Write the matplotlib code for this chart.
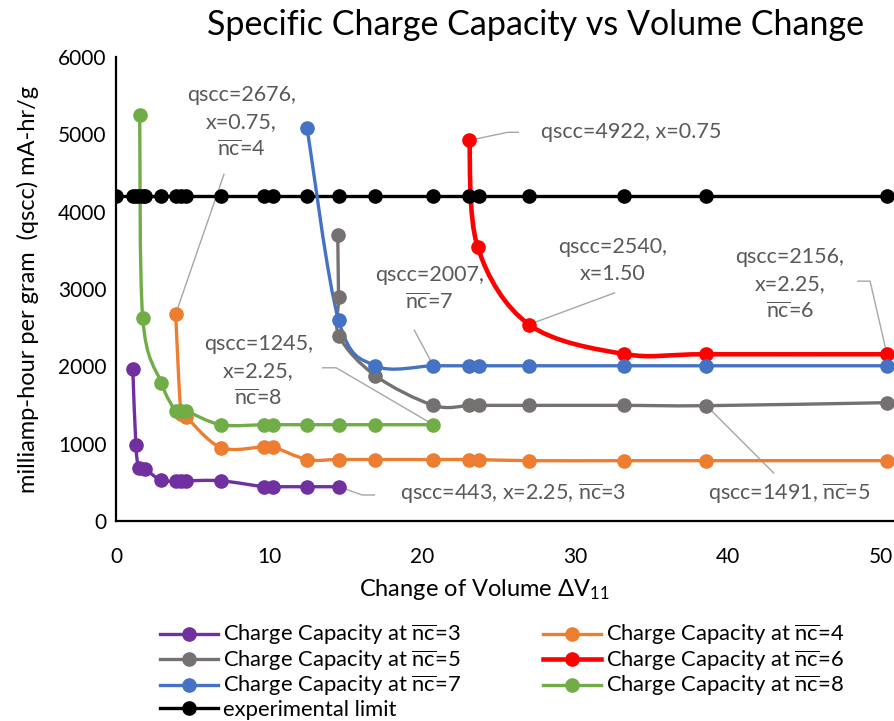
"""Specific charge capacity vs change of volume, one smoothed curve per nc."""
import numpy as np
import matplotlib
matplotlib.use("Agg")
import matplotlib.pyplot as plt
from matplotlib.path import Path
from matplotlib.patches import PathPatch
from matplotlib.lines import Line2D

plt.rcParams["font.family"] = ["Lato", "DejaVu Sans"]
plt.rcParams["mathtext.fontset"] = "custom"
plt.rcParams["mathtext.rm"] = "Lato"
plt.rcParams["mathtext.it"] = "Lato:italic"
plt.rcParams["mathtext.bf"] = "Lato:bold"

# values: x = change of volume dV11, y = qscc (mA-hr/g)
nc3_x = [1.1, 1.3, 1.5, 1.9, 2.95, 3.9, 4.25, 4.6, 6.85, 9.65, 10.25, 12.5, 14.55]
nc3_y = [1960, 985, 680, 670, 525, 520, 520, 520, 520, 443, 443, 443, 443]

nc4_x = [3.9, 4.25, 4.6, 6.85, 9.65, 10.25, 12.5, 14.55, 16.95, 20.75, 23.1, 23.7,
         27.0, 33.2, 38.6, 50.4]
nc4_y = [2676, 1380, 1340, 950, 960, 960, 795, 795, 795, 795, 795, 795,
         780, 780, 780, 780]

nc5_x = [14.5, 14.55, 14.6, 16.95, 20.75, 23.1, 23.7, 27.0, 33.2, 38.6, 50.4]
nc5_y = [3695, 2890, 2390, 1880, 1495, 1495, 1495, 1495, 1495, 1491, 1530]

nc6_x = [23.1, 23.65, 27.0, 33.2, 38.6, 50.4]
nc6_y = [4922, 3540, 2540, 2160, 2156, 2156]

nc7_x = [12.5, 14.55, 16.95, 20.75, 23.1, 23.7, 27.0, 33.2, 38.6, 50.4]
nc7_y = [5075, 2600, 2007, 2007, 2007, 2007, 2007, 2007, 2007, 2007]

nc8_x = [1.55, 1.75, 2.95, 3.9, 4.25, 4.6, 6.85, 9.65, 10.25, 12.5, 14.55, 16.95, 20.75]
nc8_y = [5245, 2620, 1790, 1420, 1420, 1420, 1245, 1245, 1245, 1245, 1245, 1245, 1245]

limit_x = [0, 1.1, 1.3, 1.5, 1.75, 1.9, 2.95, 3.9, 4.25, 4.6, 6.85, 9.65, 10.25, 12.5,
           14.55, 16.95, 20.75, 23.1, 23.7, 27.0, 33.2, 38.6, 50.4]
limit_y = [4200] * len(limit_x)

nc_labels = ["3", "4", "5", "6", "7", "8"]
colors = ["#7030A0", "#ED7D31", "#767171", "#FF0000", "#4472C4", "#70AD47"]
NOTE = "#595959"
LEAD = "#A6A6A6"
NC = r"$\overline{\mathrm{nc}}$"


def smooth_path(x, y):
    # Excel-style smoothed line: Catmull-Rom segments as cubic Bezier curves
    p = np.column_stack([x, y]).astype(float)
    n = len(p)
    verts, codes = [p[0]], [Path.MOVETO]
    for i in range(n - 1):
        p0, p1 = p[max(i - 1, 0)], p[i]
        p2, p3 = p[i + 1], p[min(i + 2, n - 1)]
        verts += [p1 + (p2 - p0) / 6, p2 - (p3 - p1) / 6, p2]
        codes += [Path.CURVE4] * 3
    return Path(verts, codes)


fig = plt.figure(figsize=(8.95, 7.21), dpi=100)
ax = fig.add_axes([0.1296, 0.2774, 0.8682, 0.6436])

series = [(nc3_x, nc3_y), (nc4_x, nc4_y), (nc5_x, nc5_y),
          (nc6_x, nc6_y), (nc7_x, nc7_y), (nc8_x, nc8_y)]
handles = {}
for (x, y), c, lab in zip(series, colors, nc_labels):
    lw = 3.3 if c == "#FF0000" else 2.4
    ax.add_patch(PathPatch(smooth_path(x, y), facecolor="none", edgecolor=c,
                           lw=lw, zorder=2, capstyle="round"))
    ax.plot(x, y, "o", color=c, ms=9.5, zorder=3)
    handles[lab] = Line2D([], [], color=c, lw=lw, marker="o", ms=9.5)

ax.plot(limit_x, limit_y, "-", color="black", lw=2.4, zorder=1.5)
ax.plot(limit_x, limit_y, "o", color="black", ms=9.5, zorder=2.5)
h_lim = Line2D([], [], color="black", lw=2.4, marker="o", ms=9.5)

ax.set_xlim(0, 50.8)
ax.set_ylim(0, 6000)
ax.set_xticks(range(0, 51, 10))
ax.set_yticks(range(0, 6001, 1000))
ax.tick_params(length=0, labelsize=15)
ax.tick_params(axis="x", pad=19)
ax.tick_params(axis="y", pad=7)
for s in ("top", "right"):
    ax.spines[s].set_visible(False)
for s in ("left", "bottom"):
    ax.spines[s].set_linewidth(1.6)
    ax.spines[s].set_color("black")

# data labels with leader lines
FS = 15.5
kw = dict(color=NOTE, fontsize=FS, ha="center", va="center", linespacing=1.45)
ax.text(8.2, 5155, "qscc=2676,\nx=0.75,\n" + NC + "=4", **kw)
ax.plot([7.06, nc4_x[0]], [4483, nc4_y[0]], color=LEAD, lw=1, zorder=1)

ax.text(27.8, 5026, "qscc=4922, x=0.75", color=NOTE, fontsize=FS, ha="left", va="center")
ax.plot([nc6_x[0], 25.6, 26.3], [nc6_y[0], 5026, 5026], color=LEAD, lw=1, zorder=1)

ax.text(32.5, 3372, "qscc=2540,\nx=1.50", **kw)
ax.plot([32.6, nc6_x[2]], [2950, nc6_y[2]], color=LEAD, lw=1, zorder=1)

ax.text(44.05, 3062, "qscc=2156,\nx=2.25,\n" + NC + "=6", **kw)
ax.plot([48.5, 49.3, nc6_x[-1]], [3101, 3101, nc6_y[-1]], color=LEAD, lw=1, zorder=1)

ax.text(20.5, 2997, "qscc=2007,\n" + NC + "=7", **kw)
ax.plot([19.5, nc7_x[3]], [2468, nc7_y[3]], color=LEAD, lw=1, zorder=1)

ax.text(9.3, 1938, "qscc=1245,\nx=2.25,\n" + NC + "=8", **kw)
ax.plot([13.5, 14.4, nc8_x[-1]], [1981, 1981, nc8_y[-1]], color=LEAD, lw=1, zorder=1)

ax.text(18.6, 350, "qscc=443, x=2.25, " + NC + "=3", color=NOTE, fontsize=FS,
        ha="left", va="center")
ax.plot([nc3_x[-1], 16.1, 16.9], [nc3_y[-1], 336, 336], color=LEAD, lw=1, zorder=1)

ax.text(44.0, 350, "qscc=1491, " + NC + "=5", color=NOTE, fontsize=FS,
        ha="center", va="center")
ax.plot([nc5_x[-2], 43.0], [nc5_y[-2], 620], color=LEAD, lw=1, zorder=1)

fig.text(0.598, 0.965, "Specific Charge Capacity vs Volume Change", fontsize=24.5,
         ha="center", va="center")
fig.text(0.541, 1 - 590 / 721, r"Change of Volume ΔV$_{11}$", fontsize=17,
         ha="center", va="center")
fig.text(28 / 895, 1 - 289 / 721, "milliamp-hour per gram  (qscc) mA-hr/g",
         fontsize=17, rotation=90, ha="center", va="center")

# legend fills column-wise, so order entries to read row by row
order = ["3", "5", "7", None, "4", "6", "8"]
hs = [handles[k] if k else h_lim for k in order]
labs = ["Charge Capacity at " + NC + "=" + k if k else "experimental limit" for k in order]
fig.legend(hs, labs, ncol=2, loc="upper left", bbox_to_anchor=(0.179, 0.136),
           frameon=False, fontsize=15.8, handlelength=2.65, handletextpad=0.2,
           columnspacing=3.75, labelspacing=0.05, borderaxespad=0, borderpad=0)

fig.savefig("out.png", dpi=100)
